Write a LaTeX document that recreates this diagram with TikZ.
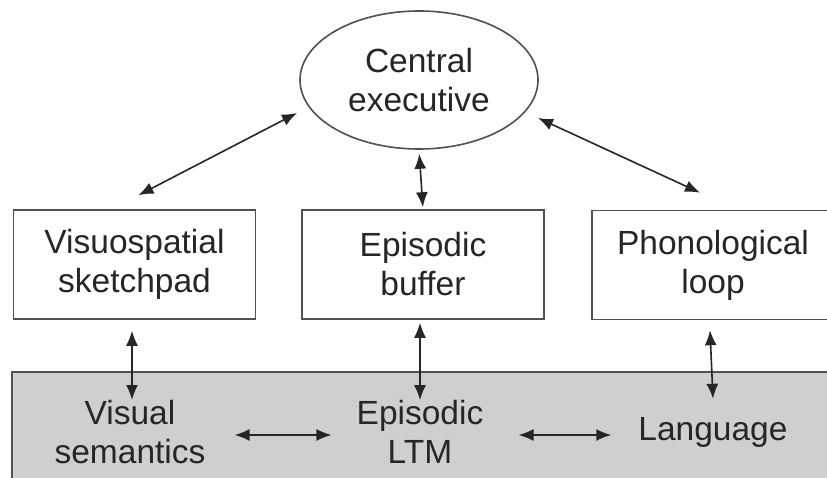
\documentclass[tikz,border=0pt]{standalone}
\usepackage{fontspec}
\setmainfont{Liberation Sans}
\usetikzlibrary{shapes.geometric,arrows.meta}
\definecolor{ink}{HTML}{262626}
\definecolor{bandgray}{HTML}{CFCFCF}
\begin{document}
\begin{tikzpicture}[x=1pt,y=-1pt,
  txt/.style={font=\fontsize{33.5}{39}\selectfont, text=ink, align=center, inner sep=0pt},
  box/.style={txt, draw=ink!80, line width=1.6pt, minimum width=242pt, minimum height=109pt},
  dbl/.style={{Latex[length=15pt,width=12pt]}-{Latex[length=15pt,width=12pt]}, line width=1.6pt, draw=ink}]
\useasboundingbox (0,0) rectangle (827,478);
\clip (0,0) rectangle (827,478);
\fill[white] (0,0) rectangle (827,478);
\filldraw[fill=bandgray, draw=ink!80, line width=2pt] (12,372) rectangle (860,510);
\node[ellipse, draw=ink!80, line width=1.6pt, txt, minimum width=238pt, minimum height=138pt] (ce) at (419,80) {Central\\executive};
\node[box] (vsp) at (134.5,264.5) {Visuospatial\\sketchpad};
\node[box] (eb) at (423,264.5) {Episodic\\buffer};
\node[box] (pl) at (713,265) {Phonological\\loop};
\node[txt] (vs) at (130,432) {Visual\\semantics};
\node[txt] (ltm) at (420,432) {Episodic\\LTM};
\node[txt] (lang) at (713,432) {Language};
% executive links
\draw[dbl] ([shift={(4pt,14pt)}]vsp.north) -- ([shift={(-122pt,-33pt)}]ce.center);
\draw[dbl] ([shift={(119pt,-38pt)}]ce.center) -- ([shift={(-13pt,17pt)}]pl.north);
\draw[dbl, shorten <=4pt, shorten >=2pt] (ce.south) -- (eb.north);
% vertical links
\draw[dbl] ([shift={(-2.5pt,-11pt)}]vsp.south) -- ([xshift=-2.5pt]vsp.south |- vs.north);
\draw[dbl] ([shift={(-3pt,-3pt)}]eb.south) -- ([xshift=-3pt]eb.south |- ltm.north);
\draw[dbl] ([shift={(-3pt,-10pt)}]pl.south) -- ([shift={(0pt,18pt)}]lang.north);
% horizontal links
\draw[dbl, shorten <=29pt, shorten >=25pt] ([yshift=-3pt]vs.east) -- ([yshift=-3pt]ltm.west);
\draw[dbl, shorten <=35pt, shorten >=27pt] ([yshift=-3pt]ltm.east) -- ([yshift=-3pt]lang.west);
\end{tikzpicture}
\end{document}
